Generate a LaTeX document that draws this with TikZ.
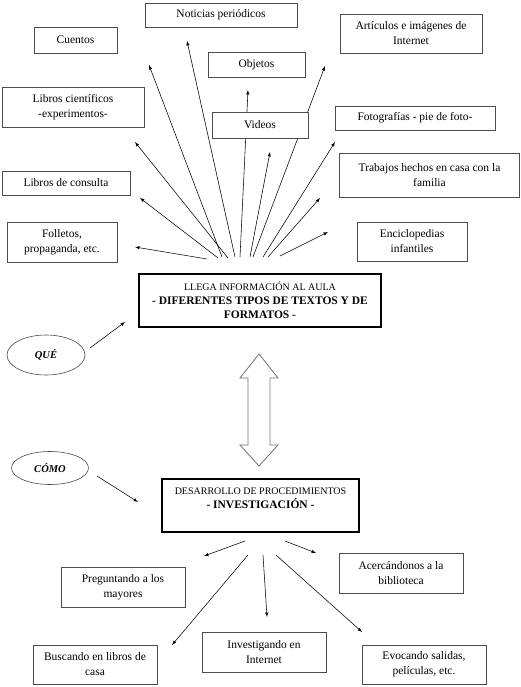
\documentclass[tikz,border=0pt]{standalone}
\usepackage{fontspec}
\setmainfont{Liberation Serif}
\usetikzlibrary{arrows,shapes.geometric}
\tikzstyle{card}=[rectangle, draw=black!70, fill=white, line width=0.6pt, inner sep=1pt,
                  align=center, font=\fontsize{11.5}{15}\selectfont]
\tikzstyle{mainbox}=[card, draw=black, line width=1.8pt, font=\fontsize{10}{14}\selectfont]
\tikzstyle{tag}=[ellipse, draw=black!70, fill=white, line width=0.6pt, inner sep=0pt,
                 font=\fontsize{10.5}{12}\bfseries\itshape\selectfont]
\tikzstyle{ray}=[-latex, line width=0.55pt]
\newcommand{\card}{\node[card]}
\newcommand{\boldline}[1]{{\fontsize{11.5}{14}\bfseries\selectfont #1}}

\begin{document}
\begin{tikzpicture}[x=1pt, y=-1pt]
\useasboundingbox (0,0) rectangle (520,687);

% fan above the first box
\coordinate (f1) at (207,259);  \coordinate (t1) at (135,247);
\coordinate (f2) at (218,258);  \coordinate (t2) at (140,198);
\coordinate (f3) at (228,258);  \coordinate (t3) at (135,142);
\coordinate (f4) at (222,257);  \coordinate (t4) at (149,65);
\coordinate (f5) at (235,257);  \coordinate (t5) at (187,41);
\coordinate (f6) at (240,257);  \coordinate (t6) at (248,90);
\coordinate (f7) at (250,257);  \coordinate (t7) at (270,152);
\coordinate (f8) at (253,257);  \coordinate (t8) at (325,66);
\coordinate (f9) at (263,257);  \coordinate (t9) at (335,142);
\coordinate (f10) at (268,257); \coordinate (t10) at (320,198);
\coordinate (f11) at (280,256); \coordinate (t11) at (328,232);
\foreach \i in {1,...,11}
    \draw[ray] (f\i) -- (t\i);

\card[minimum width=152, minimum height=24] (noticias) at (221,15) {Noticias periódicos};
\card[minimum width=83, minimum height=26] (cuentos) at (75.5,40) {Cuentos};
\card[minimum width=142, minimum height=39] (articulos) at (411,33.5) {Artículos e imágenes de\\ Internet};
\card[minimum width=97, minimum height=25] (objetos) at (256.5,64.5) {Objetos};
\card[minimum width=142, minimum height=40] (cientificos) at (73,107) {Libros científicos\\ -experimentos-};
\card[minimum width=96, minimum height=26] (videos) at (260,125) {Videos};
\card[minimum width=160, minimum height=24] (fotos) at (415,118) {Fotografías - pie de foto-};
\card[minimum width=128, minimum height=24] (consulta) at (66,183) {Libros de consulta};
\card[minimum width=180, minimum height=44] (trabajos) at (429.5,175) {Trabajos hechos en casa con la\\ familia};
\card[minimum width=110, minimum height=40] (folletos) at (62,242) {Folletos,\\ propaganda, etc.};
\card[minimum width=110, minimum height=39] (enciclo) at (412,241.5) {Enciclopedias\\ infantiles};

\node[mainbox, minimum width=242, minimum height=53] (info) at (260,300.5)
    {LLEGA INFORMACIÓN AL AULA\\ \boldline{- DIFERENTES TIPOS DE TEXTOS Y DE}\\ \boldline{FORMATOS -}};

\node[tag, minimum width=78, minimum height=40] (que) at (46,355) {QUÉ};
\coordinate (q1) at (90,348); \coordinate (q2) at (125,322);
\draw[ray] (q1) -- (q2);

% double arrow between the two boxes
\draw[draw=black!55, line width=0.8pt, fill=white]
    (259,354) -- (278,378) -- (270,378) -- (270,445) -- (278,445) -- (259,466)
    -- (240,445) -- (248,445) -- (248,378) -- (240,378) -- cycle;

\node[tag, minimum width=77, minimum height=33] (como) at (50,468) {CÓMO};
\coordinate (c1) at (97,476); \coordinate (c2) at (138,502);
\draw[ray] (c1) -- (c2);

\node[mainbox, minimum width=197, minimum height=53] (proc) at (260.5,505.5)
    {DESARROLLO DE PROCEDIMIENTOS\\ \boldline{- INVESTIGACIÓN -}\\ \mbox{}};

% arrows below the second box
\coordinate (g1) at (245,541); \coordinate (h1) at (204,556);
\coordinate (g2) at (285,541); \coordinate (h2) at (316,553);
\coordinate (g3) at (248,555); \coordinate (h3) at (172,645);
\coordinate (g4) at (263,555); \coordinate (h4) at (267,617);
\coordinate (g5) at (276,555); \coordinate (h5) at (362,632);
\foreach \i in {1,...,5}
    \draw[ray] (g\i) -- (h\i);

\card[minimum width=124, minimum height=40] (preguntando) at (123,587) {Preguntando a los\\ mayores};
\card[minimum width=124, minimum height=40] (acercando) at (401,573) {Acercándonos a la\\ biblioteca};
\card[minimum width=124, minimum height=39] (buscando) at (95,664.5) {Buscando en libros de\\ casa};
\card[minimum width=124, minimum height=40] (investigando) at (264,652) {Investigando en\\ Internet};
\card[minimum width=124, minimum height=39] (evocando) at (424,664.5) {Evocando salidas,\\ películas, etc.};
\end{tikzpicture}
\end{document}
